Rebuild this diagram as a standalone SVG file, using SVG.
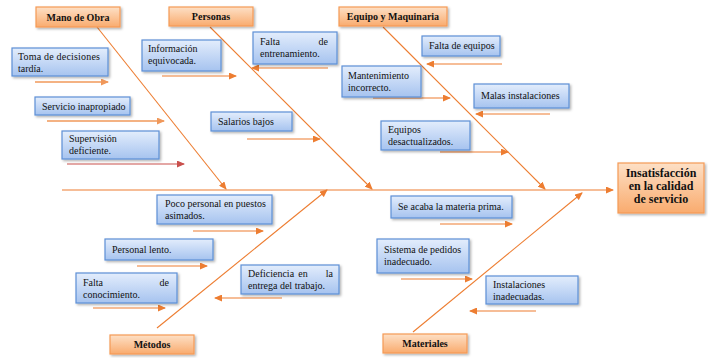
<svg xmlns="http://www.w3.org/2000/svg" width="708" height="358" viewBox="0 0 708 358" font-family="'Liberation Serif', 'Times New Roman', serif">
<defs>
<linearGradient id="gb" x1="0" y1="0" x2="0" y2="1"><stop offset="0" stop-color="#e3edfc"/><stop offset="1" stop-color="#a6c3ef"/></linearGradient>
<linearGradient id="go" x1="0" y1="0" x2="0" y2="1"><stop offset="0" stop-color="#fde0c6"/><stop offset="1" stop-color="#f9ab6e"/></linearGradient>
<filter id="sh" x="-10%" y="-20%" width="130%" height="160%"><feDropShadow dx="1.5" dy="1.5" stdDeviation="1" flood-color="#000" flood-opacity="0.3"/></filter>
<marker id="ao" markerWidth="8" markerHeight="7" refX="7" refY="3.5" orient="auto" markerUnits="userSpaceOnUse"><path d="M0,0 L8,3.5 L0,7 z" fill="#ed7d31"/></marker>
<marker id="al" markerWidth="8" markerHeight="7" refX="7" refY="3.5" orient="auto" markerUnits="userSpaceOnUse"><path d="M0,0 L8,3.5 L0,7 z" fill="#f0985a"/></marker>
<marker id="ar" markerWidth="8" markerHeight="7" refX="7" refY="3.5" orient="auto" markerUnits="userSpaceOnUse"><path d="M0,0 L8,3.5 L0,7 z" fill="#c9504d"/></marker>
</defs>
<style>
.c{fill:url(#gb);stroke:#5d8fd6;stroke-width:1.2;filter:url(#sh)}
.k{fill:url(#go);stroke:#f59a55;stroke-width:1.2;filter:url(#sh)}
text{font-family:'Liberation Serif','Times New Roman',serif;font-size:10px;fill:#111}
.b{font-weight:bold;text-anchor:middle}
.e{font-weight:bold;font-size:12px;text-anchor:middle}
.ln{stroke:#ed7d31;stroke-width:1.1;fill:none;marker-end:url(#ao)}
.lo{stroke:#f0985a;stroke-width:1.3;fill:none;marker-end:url(#al)}
.lr{stroke:#c9504d;stroke-width:1.1;fill:none;marker-end:url(#ar)}
</style>
<g id="connectors">
<line class="ln" x1="62" y1="190" x2="613" y2="190"/>
<line class="ln" x1="97" y1="27" x2="226" y2="189"/>
<line class="ln" x1="210" y1="27" x2="372" y2="189"/>
<line class="ln" x1="383" y1="27" x2="545" y2="189"/>
<line class="ln" x1="157" y1="328" x2="327" y2="190"/>
<line class="ln" x1="413" y1="332" x2="582" y2="193"/>
<line class="lo" x1="35" y1="82" x2="108" y2="82"/>
<line class="lo" x1="47" y1="121" x2="164" y2="121"/>
<line class="lr" x1="67" y1="164" x2="184" y2="164"/>
<line class="ln" x1="162" y1="76" x2="236" y2="76"/>
<line class="ln" x1="328" y1="68" x2="252" y2="68"/>
<line class="ln" x1="247" y1="139" x2="320" y2="139"/>
<line class="ln" x1="502" y1="64" x2="427" y2="64"/>
<line class="ln" x1="373" y1="98" x2="450" y2="98"/>
<line class="ln" x1="550" y1="114" x2="476" y2="114"/>
<line class="ln" x1="440" y1="152" x2="508" y2="152"/>
<line class="ln" x1="193" y1="231" x2="263" y2="231"/>
<line class="ln" x1="137" y1="266" x2="207" y2="266"/>
<line class="ln" x1="93" y1="308" x2="165" y2="308"/>
<line class="ln" x1="282" y1="298" x2="215" y2="298"/>
<line class="ln" x1="440" y1="224" x2="512" y2="224"/>
<line class="ln" x1="401" y1="279" x2="472" y2="279"/>
<line class="ln" x1="536" y1="311" x2="470" y2="311"/>
</g>
<g id="effect"><rect class="k" x="618" y="163" width="86" height="50"/><text class="e" x="661" y="177">Insatisfacción</text><text class="e" x="661" y="190">en la calidad</text><text class="e" x="661" y="203">de servicio</text></g>
<g id="cat-mano"><rect class="k" x="36" y="7" width="84" height="20"/><text class="b" x="78" y="21">Mano de Obra</text></g>
<g id="cat-personas"><rect class="k" x="169" y="7" width="84" height="19"/><text class="b" x="211" y="20">Personas</text></g>
<g id="cat-equipo"><rect class="k" x="339" y="7" width="108" height="19"/><text class="b" x="393" y="20">Equipo y Maquinaria</text></g>
<g id="cat-metodos"><rect class="k" x="110" y="335" width="84" height="19"/><text class="b" x="152" y="348">Métodos</text></g>
<g id="cat-materiales"><rect class="k" x="383" y="334" width="84" height="19"/><text class="b" x="425" y="347">Materiales</text></g>
<g id="c-toma"><rect class="c" x="12" y="48" width="96" height="28"/><text x="18" y="60" textLength="82">Toma de decisiones</text><text x="18" y="72">tardía.</text></g>
<g id="c-servicio"><rect class="c" x="35" y="97" width="95" height="18"/><text x="42" y="110">Servicio inapropiado</text></g>
<g id="c-supervision"><rect class="c" x="62" y="131" width="97" height="28"/><text x="69" y="142">Supervisión</text><text x="69" y="154">deficiente.</text></g>
<g id="c-informacion"><rect class="c" x="142" y="40" width="79" height="31"/><text x="148" y="52">Información</text><text x="148" y="64">equivocada.</text></g>
<g id="c-entrenamiento"><rect class="c" x="253" y="32" width="84" height="32"/><text x="260" y="45">Falta<tspan x="328" text-anchor="end">de</tspan></text><text x="260" y="57">entrenamiento.</text></g>
<g id="c-salarios"><rect class="c" x="211" y="112" width="81" height="19"/><text x="218" y="125">Salarios bajos</text></g>
<g id="c-falta-equipos"><rect class="c" x="422" y="36" width="78" height="20"/><text x="429" y="49">Falta de equipos</text></g>
<g id="c-mantenimiento"><rect class="c" x="342" y="66" width="79" height="31"/><text x="348" y="79">Mantenimiento</text><text x="348" y="91">incorrecto.</text></g>
<g id="c-malas"><rect class="c" x="474" y="84" width="95" height="24"/><text x="481" y="99">Malas instalaciones</text></g>
<g id="c-desactualizados"><rect class="c" x="381" y="121" width="89" height="29"/><text x="388" y="133">Equipos</text><text x="388" y="145">desactualizados.</text></g>
<g id="c-poco"><rect class="c" x="157" y="195" width="115" height="29"/><text x="165" y="207">Poco personal en puestos</text><text x="165" y="219">asimados.</text></g>
<g id="c-lento"><rect class="c" x="105" y="239" width="108" height="21"/><text x="112" y="253">Personal lento.</text></g>
<g id="c-conocimiento"><rect class="c" x="76" y="273" width="101" height="30"/><text x="83" y="286">Falta<tspan x="169" text-anchor="end">de</tspan></text><text x="83" y="298">conocimiento.</text></g>
<g id="c-deficiencia"><rect class="c" x="241" y="265" width="98" height="29"/><text x="248" y="277">Deficiencia<tspan x="303" text-anchor="middle">en</tspan><tspan x="333" text-anchor="end">la</tspan></text><text x="248" y="289">entrega del trabajo.</text></g>
<g id="c-materia"><rect class="c" x="391" y="196" width="121" height="22"/><text x="398" y="210">Se acaba la materia prima.</text></g>
<g id="c-pedidos"><rect class="c" x="377" y="239" width="92" height="34"/><text x="384" y="253">Sistema de pedidos</text><text x="384" y="265">inadecuado.</text></g>
<g id="c-instalaciones"><rect class="c" x="486" y="276" width="92" height="28"/><text x="493" y="288">Instalaciones</text><text x="493" y="300">inadecuadas.</text></g>
</svg>
